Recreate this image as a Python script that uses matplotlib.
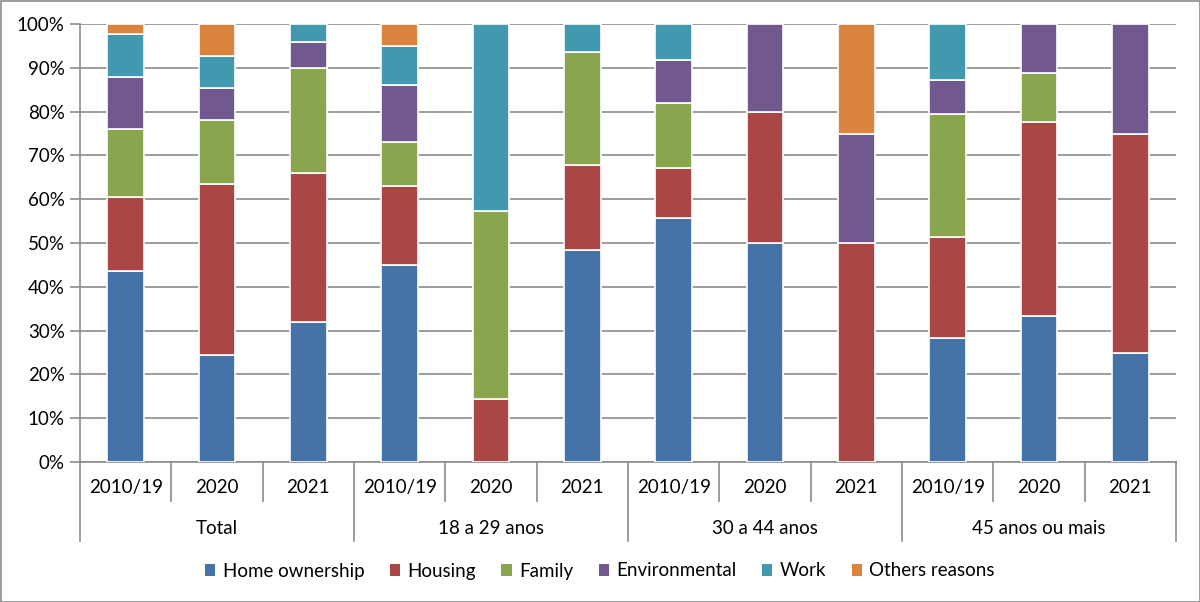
import numpy as np
import matplotlib
matplotlib.use("Agg")
import matplotlib.pyplot as plt
from matplotlib.patches import Patch, Rectangle

plt.rcParams["font.family"] = ["Lato", "DejaVu Sans"]

# data (percent shares)
years = ["2010/19", "2020", "2021"] * 4
groups = ["Total", "18 a 29 anos", "30 a 44 anos", "45 anos ou mais"]
reasons = ["Home ownership", "Housing", "Family", "Environmental", "Work", "Others reasons"]

home = [43.6, 24.4, 32.0, 45.0, 0, 48.4, 55.8, 50, 0, 28.2, 33.3, 25]
housing = [17.0, 39.0, 34.0, 17.9, 14.3, 19.4, 11.4, 30, 50, 23.2, 44.4, 50]
family = [15.4, 14.6, 24.0, 10.2, 42.9, 25.8, 14.8, 0, 0, 28.1, 11.1, 0]
environmental = [11.8, 7.3, 6.0, 12.9, 0, 0, 9.8, 20, 25, 7.8, 11.1, 25]
work = [9.9, 7.3, 4.0, 9.0, 42.9, 6.5, 8.2, 0, 0, 12.7, 0, 0]
others = [2.3, 7.3, 0, 5.0, 0, 0, 0, 0, 25, 0, 0, 0]

colors = ["#4572A7", "#AA4643", "#89A54E", "#71588F", "#4198AF", "#DB843D"]
series = [home, housing, family, environmental, work, others]

fs = 13.5
fig = plt.figure(figsize=(12, 6.02), dpi=100)
ax = fig.add_axes([80 / 1200, 1 - 462 / 602, 1096 / 1200, 438 / 602])

x = np.arange(len(years))
bottom = np.zeros(len(years))
for vals, col in zip(series, colors):
    vals = np.array(vals, dtype=float)
    keep = vals > 0
    ax.bar(x[keep], vals[keep], width=0.4, bottom=bottom[keep], color=col,
           edgecolor="white", linewidth=1.2, zorder=3)
    bottom += vals

grey = "#8c8c8c"
ax.set_xlim(-0.5, len(years) - 0.5)
ax.set_ylim(0, 100)
ax.set_yticks(np.arange(0, 101, 10))
ax.set_yticklabels([f"{v}%" for v in range(0, 101, 10)], fontsize=fs)
ax.yaxis.grid(True, color=grey, linewidth=1.2, zorder=0)
ax.set_xticks([])
ax.tick_params(axis="y", length=7, color=grey, width=1.2, pad=4)
for s in ["top", "right"]:
    ax.spines[s].set_visible(False)
for s in ["left", "bottom"]:
    ax.spines[s].set_color(grey)
    ax.spines[s].set_linewidth(1.2)

# two-level category axis
trans = ax.get_xaxis_transform()
for i, yr in enumerate(years):
    ax.text(i, -0.059, yr, transform=trans, ha="center", va="center", fontsize=fs)
for k in range(len(years) + 1):
    xs = k - 0.5
    low = -0.18 if k % 3 == 0 else -0.089
    ax.plot([xs, xs], [0, low], transform=trans, color=grey, linewidth=1.2, clip_on=False)
for g, name in enumerate(groups):
    ax.text(3 * g + 1, -0.151, name, transform=trans, ha="center", va="center", fontsize=fs)

handles = [Patch(facecolor=c, edgecolor="none") for c in colors]
fig.legend(handles, reasons, loc="center", bbox_to_anchor=(0.5, 1 - 571 / 602), ncol=6,
           frameon=False, fontsize=fs, handlelength=0.55, handleheight=0.55,
           handletextpad=0.4, columnspacing=1.35)

fig.patches.append(Rectangle((0.5 / 1200, 0.5 / 602), 1 - 1 / 1200, 1 - 1 / 602,
                             transform=fig.transFigure, fill=False, edgecolor=grey, linewidth=1.2))

fig.savefig("out.png", dpi=100)
